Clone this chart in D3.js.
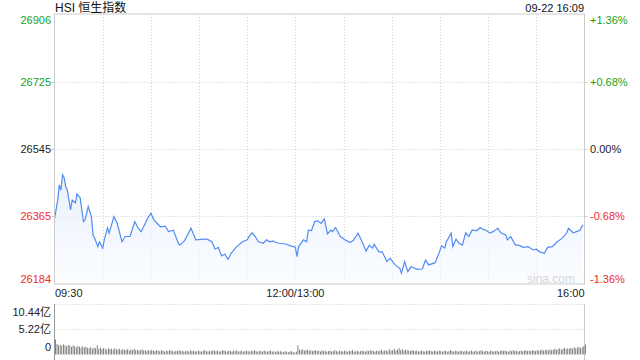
<!DOCTYPE html>
<html><head><meta charset="utf-8">
<script src="https://cdn.jsdelivr.net/npm/d3@7"></script>
<style>
html,body{margin:0;padding:0;background:#fff;}
svg{display:block;font-family:"Liberation Sans",Arial,sans-serif;}
</style></head>
<body><svg id="c" width="640" height="360"></svg>
<script>
// ---- data ----
const title = "HSI 恒生指数";
const stamp = "09-22 16:09";
const prevClose = 26545;
const priceTicks = [26184, 26365, 26545, 26725, 26906];
const pctTicks = ["-1.36%", "-0.68%", "0.00%", "+0.68%", "+1.36%"];
const timeTicks = ["09:30", "12:00/13:00", "16:00"];
const volTicks = [0, 5.22, 10.44];
const volTickLabels = ["0", "5.22亿", "10.44亿"];

const times = ["09:30","09:32","09:33","09:34","09:35","09:36","09:37","09:38","09:40","09:41","09:43","09:44","09:46","09:48","09:49","09:51","09:53","09:54","09:55","09:57","09:58","10:00","10:01","10:03","10:04","10:07","10:09","10:12","10:14","10:17","10:20","10:22","10:24","10:28","10:30","10:32","10:36","10:39","10:41","10:44","10:47","10:48","10:51","10:55","10:58","11:03","11:05","11:08","11:10","11:12","11:14","11:16","11:18","11:20","11:23","11:27","11:30","11:31","11:33","11:35","11:37","11:40","11:42","11:44","11:46","11:48","11:50","11:54","11:57","11:59","12:00","13:01","13:02","13:05","13:07","13:08","13:10","13:12","13:14","13:16","13:18","13:20","13:22","13:23","13:25","13:28","13:31","13:34","13:36","13:39","13:41","13:44","13:46","13:48","13:49","13:52","13:54","13:57","13:59","14:02","14:05","14:06","14:08","14:10","14:12","14:16","14:19","14:21","14:23","14:27","14:29","14:31","14:33","14:34","14:37","14:38","14:40","14:42","14:44","14:46","14:48","14:50","14:53","14:55","14:57","14:59","15:01","15:03","15:06","15:08","15:11","15:12","15:14","15:17","15:19","15:22","15:25","15:28","15:30","15:32","15:35","15:37","15:40","15:43","15:46","15:49","15:50","15:53","15:55","15:57","15:59"];
const prices = [26358,26409,26449,26435,26476,26468,26444,26435,26382,26409,26401,26425,26414,26351,26355,26391,26364,26315,26307,26284,26297,26280,26302,26334,26320,26364,26347,26297,26311,26311,26351,26334,26324,26360,26373,26355,26337,26339,26324,26328,26294,26288,26300,26333,26302,26304,26304,26297,26277,26282,26259,26264,26250,26266,26282,26297,26302,26310,26321,26311,26297,26293,26302,26297,26299,26295,26293,26291,26286,26284,26282,26257,26284,26302,26297,26328,26327,26351,26353,26346,26358,26318,26328,26324,26335,26311,26302,26295,26300,26320,26302,26272,26288,26280,26290,26270,26270,26244,26253,26235,26226,26213,26244,26217,26230,26223,26224,26248,26235,26241,26262,26286,26280,26297,26320,26284,26304,26293,26288,26321,26311,26328,26327,26335,26330,26327,26320,26324,26333,26321,26315,26302,26311,26288,26288,26282,26284,26275,26277,26270,26266,26282,26284,26297,26306,26321,26333,26321,26324,26327,26342];

// volume per trading minute (亿), minute 0 = 09:30 ... 150 = 12:00/13:00 ... 330 = 16:00
const volumes = [
3.1,2.2,1.9,2.0,1.8,2.1,1.9,1.7,2.0,1.8,
1.6,1.9,1.7,1.5,1.8,1.6,1.4,1.7,1.5,1.6,
1.4,1.3,1.5,1.2,1.4,1.3,1.9,1.2,1.4,1.1,
1.3,1.2,1.0,1.3,1.1,1.2,1.0,1.3,1.1,1.0,
1.2,0.9,1.1,1.0,0.9,1.1,0.8,1.0,0.9,1.2,
0.9,1.0,0.8,0.9,1.1,0.8,0.9,0.7,0.9,0.8,
1.0,0.8,0.7,0.9,0.8,0.7,0.9,0.8,0.6,0.8,
0.7,0.9,0.8,0.7,0.6,0.8,0.7,0.9,0.7,0.8,
0.6,0.7,0.8,0.6,0.9,0.7,0.8,0.6,0.7,0.8,
0.7,0.6,0.8,0.9,0.7,0.6,0.8,0.7,0.9,0.8,
0.7,0.8,0.6,0.7,0.9,0.8,0.7,0.6,0.8,0.7,
0.6,0.8,0.7,0.9,0.6,0.7,0.8,0.6,0.7,0.8,
0.7,0.6,0.8,0.7,0.9,0.7,0.6,0.8,0.7,0.6,
0.8,0.7,0.6,0.7,0.8,0.6,0.7,0.5,0.7,0.6,
0.7,0.6,0.5,0.7,0.6,0.5,0.6,0.7,0.5,0.4,
0.6,
1.9,1.0,0.9,1.1,0.8,0.9,1.0,0.8,0.9,0.7,
0.8,0.9,0.7,0.8,0.6,0.9,0.7,0.8,0.6,0.7,
0.8,0.6,0.7,0.9,0.7,0.6,0.8,0.7,0.6,0.8,
0.7,0.6,0.8,0.7,0.9,0.6,0.7,0.8,0.6,0.7,
0.8,0.7,0.6,0.8,0.7,0.9,0.8,0.7,0.6,0.8,
0.7,0.8,1.0,0.7,0.8,0.9,0.7,1.1,0.8,0.9,
1.2,0.8,1.0,1.3,0.9,1.1,0.8,1.0,0.9,0.8,
0.7,0.9,0.8,0.7,0.8,0.6,0.7,0.8,0.7,0.6,
0.8,0.7,0.9,0.7,0.6,0.8,0.7,0.6,0.8,0.7,
0.6,0.7,0.8,0.6,0.7,0.9,0.7,0.6,0.8,0.7,
0.6,0.8,0.7,0.6,0.7,0.8,0.6,0.7,0.8,0.6,
0.7,0.8,0.6,0.7,0.9,0.7,0.6,0.8,0.7,0.6,
0.8,0.7,0.6,0.7,0.8,0.6,0.7,0.9,0.7,0.8,
0.7,0.6,0.8,0.7,0.9,0.7,0.8,0.6,0.7,0.8,
0.7,0.8,0.9,0.7,0.8,0.7,0.9,0.8,0.7,0.9,
0.8,0.9,1.0,0.8,0.9,1.0,0.8,1.1,0.9,1.0,
1.2,1.0,1.1,1.3,1.0,1.2,1.4,1.1,1.3,1.2,
1.4,1.2,1.5,1.3,1.4,1.6,1.3,1.5,1.7,2.1];

// ---- helpers ----
function tradeMinute(t){
  const [h,m] = t.split("/").pop().split(":").map(Number);
  const mins = h*60+m;
  if (mins <= 12*60) return mins - (9*60+30);
  return 150 + mins - 13*60;
}
const GREEN = "#1aa11a", RED = "#ee2b2b", TXT = "#222", GRID = "#cfcfcf", BORDER = "#cccccc";

const svg = d3.select("#c");
const L = 54.5, R = 584.5, T = 14, B = 284;
const VT = 304, VB = 354.5;

const x = d3.scaleLinear().domain([0, 330]).range([L, R]);
const y = d3.scaleLinear().domain([priceTicks[0], priceTicks[4]]).range([B, T]);
const yv = d3.scaleLinear().domain([0, volTicks[2]]).range([VB, VT]);

// title
svg.append("text").attr("x", 55).attr("y", 12).attr("font-size", 12).attr("fill", "#111")
  .attr("font-family", "'Liberation Sans','Noto Sans CJK SC',sans-serif").text(title);
svg.append("text").attr("x", 584).attr("y", 12).attr("font-size", 11).attr("fill", "#111")
  .attr("text-anchor", "end").text(stamp);

// gradient
const defs = svg.append("defs");
const g = defs.append("linearGradient").attr("id", "ag").attr("x1", 0).attr("y1", 0).attr("x2", 0).attr("y2", 1);
g.append("stop").attr("offset", "0%").attr("stop-color", "#e6eefd").attr("stop-opacity", 0.9);
g.append("stop").attr("offset", "100%").attr("stop-color", "#f8fbff").attr("stop-opacity", 0.6);

// grid main
const vg = d3.range(1, 11).map(i => i * 30);
svg.append("g").selectAll("line").data(vg).join("line")
  .attr("x1", d => Math.round(x(d)) + 0.5).attr("x2", d => Math.round(x(d)) + 0.5)
  .attr("y1", T).attr("y2", B).attr("stroke", GRID).attr("stroke-dasharray", "1,2");
svg.append("g").selectAll("line").data(priceTicks.slice(1, 4)).join("line")
  .attr("x1", L).attr("x2", R)
  .attr("y1", d => Math.round(y(d)) + 0.5).attr("y2", d => Math.round(y(d)) + 0.5)
  .attr("stroke", GRID).attr("stroke-dasharray", "1,2");

// area + line
const pts = times.map((t, i) => [tradeMinute(t), prices[i]]);
svg.append("path").datum(pts)
  .attr("d", d3.area().x(d => x(d[0])).y0(B).y1(d => y(d[1])))
  .attr("fill", "url(#ag)");
svg.append("path").datum(pts)
  .attr("d", d3.line().x(d => x(d[0])).y(d => y(d[1])))
  .attr("fill", "none").attr("stroke", "#528cf2").attr("stroke-width", 1.2);

// border main
svg.append("rect").attr("x", L).attr("y", T).attr("width", R - L).attr("height", B - T)
  .attr("fill", "none").attr("stroke", BORDER);
// small ticks
svg.append("g").selectAll("line").data(priceTicks.slice(1, 4)).join("line")
  .attr("x1", L - 3).attr("x2", L).attr("y1", d => Math.round(y(d)) + 0.5).attr("y2", d => Math.round(y(d)) + 0.5)
  .attr("stroke", BORDER);
svg.append("g").selectAll("line").data(priceTicks.slice(1, 4)).join("line")
  .attr("x1", R).attr("x2", R + 3).attr("y1", d => Math.round(y(d)) + 0.5).attr("y2", d => Math.round(y(d)) + 0.5)
  .attr("stroke", BORDER);

// left / right labels
function lblY(i, scale, vals, top, bot) {
  const v = scale(vals[i]);
  if (i === vals.length - 1) return top + 10;
  if (i === 0) return bot - 1;
  return v + 4;
}
const colOf = d => d > prevClose ? GREEN : (d < prevClose ? RED : TXT);
svg.append("g").selectAll("text").data(priceTicks).join("text")
  .attr("x", 51).attr("y", (d, i) => lblY(i, y, priceTicks, T, B))
  .attr("text-anchor", "end").attr("font-size", 11).attr("fill", d => colOf(d)).text(d => d);
svg.append("g").selectAll("text").data(pctTicks).join("text")
  .attr("x", 590).attr("y", (d, i) => lblY(i, y, priceTicks, T, B))
  .attr("font-size", 11).attr("fill", (d, i) => colOf(priceTicks[i])).text(d => d);

// watermark
svg.append("text").attr("x", 575).attr("y", 283).attr("text-anchor", "end")
  .attr("font-size", 12).attr("fill", "#d6d6d6").text("sina.com");

// time labels
const anchors = ["start", "middle", "end"];
svg.append("g").selectAll("text").data(timeTicks).join("text")
  .attr("x", (d, i) => i === 0 ? 55 : (i === 2 ? 584.5 : x(tradeMinute(d.split("/")[0]))))
  .attr("y", 297).attr("font-size", 11).attr("fill", TXT)
  .attr("text-anchor", (d, i) => anchors[i]).text(d => d);

// volume panel
svg.append("g").selectAll("line").data(volTicks.slice(1)).join("line")
  .attr("x1", L).attr("x2", R).attr("y1", d => Math.round(yv(d)) + 0.5).attr("y2", d => Math.round(yv(d)) + 0.5)
  .attr("stroke", GRID).attr("stroke-dasharray", "1,2");
svg.append("line").attr("x1", L).attr("x2", L).attr("y1", VT).attr("y2", 360).attr("stroke", "#999");
svg.append("line").attr("x1", R).attr("x2", R).attr("y1", VT).attr("y2", 360).attr("stroke", BORDER);
svg.append("g").selectAll("rect").data(volumes).join("rect")
  .attr("x", (d, i) => x(i) + 0.5).attr("width", 0.8)
  .attr("y", d => yv(d)).attr("height", d => VB - yv(d))
  .attr("fill", "#666");
svg.append("g").selectAll("text").data(volTickLabels).join("text")
  .attr("x", 51).attr("y", (d, i) => i === 2 ? 316 : (i === 0 ? 351 : yv(volTicks[i]) + 4))
  .attr("text-anchor", "end").attr("font-size", 11).attr("fill", TXT)
  .attr("font-family", "'Liberation Sans','Noto Sans CJK SC',sans-serif").text(d => d);
</script>
</body></html>
